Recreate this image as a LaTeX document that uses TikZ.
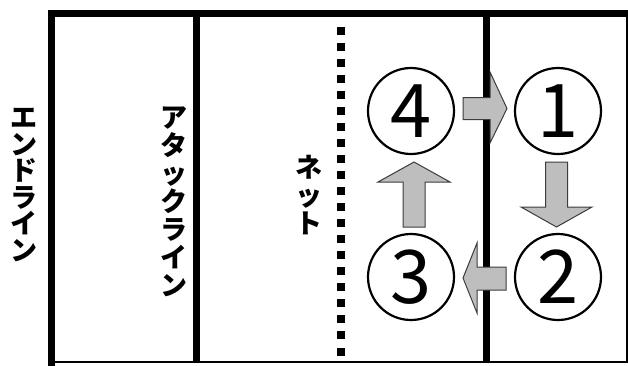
\documentclass[tikz,border=0pt]{standalone}
\usepackage{fontspec}
\newfontfamily\jp{Noto Sans CJK JP}
\newfontfamily\jpdig{Noto Sans CJK JP}
\begin{document}
\begin{tikzpicture}[x=1pt,y=-1pt,
  thickline/.style={line width=7pt,line cap=rect},
  thinline/.style={line width=2pt},
  posnode/.style={circle,draw,line width=2.2pt,minimum size=86pt,inner sep=0pt,font=\jpdig\fontsize{74}{74}\selectfont},
  blockarrow/.style={fill={rgb,255:red,189;green,190;blue,189},draw={rgb,255:red,60;green,60;blue,60},line width=1pt,line join=miter},
  vlabel/.style={align=center,inner sep=0pt,font=\jp\bfseries\fontsize{27}{#1}\selectfont},
  netline/.style={line width=8pt,dash pattern=on 8pt off 8.05pt}]
\useasboundingbox (0,0) rectangle (628,365);
% outer frame
\draw[thinline] (51.5,16) -- (626.5,16) -- (626.5,362) -- (51.5,362);
\draw[thickline] (51.5,362.5) -- (51.5,13.5) -- (626,13.5);
\draw[thickline,line cap=butt] (196.5,13) -- (196.5,363);
\draw[thickline,line cap=butt] (486,13) -- (486,363);
% net
\draw[netline] (341,26.5) -- (341,359);
% labels
\node[vlabel=26.5] (end) at (23.5,185) {エ\\ン\\ド\\ラ\\イ\\ン};
\node[vlabel=28] (atk) at (173.5,202) {ア\\タ\\ッ\\ク\\ラ\\イ\\ン};
\node[vlabel=28] (net) at (309,195) {ネ\\ッ\\ト};
% arrows
\draw[blockarrow] (463,97.5) -- (490,97.5) -- (490,72) -- (507,108.5) -- (490,143) -- (490,119.5) -- (463,119.5) -- cycle;
\draw[blockarrow] (545.5,162) -- (567.5,162) -- (567.5,207) -- (592,207) -- (556.5,227) -- (521,207) -- (545.5,207) -- cycle;
\draw[blockarrow] (506,267) -- (477,267) -- (477,243) -- (463,278) -- (477,313) -- (477,290) -- (506,290) -- cycle;
\draw[blockarrow] (403,227) -- (403,182) -- (378,182) -- (414,162) -- (450,182) -- (425,182) -- (425,227) -- cycle;
% positions
\node[posnode] (p4) at (411,111) {4};
\node[posnode] (p1) at (558,111) {1};
\node[posnode] (p3) at (411,277) {3};
\node[posnode] (p2) at (558,277) {2};
\end{tikzpicture}
\end{document}
